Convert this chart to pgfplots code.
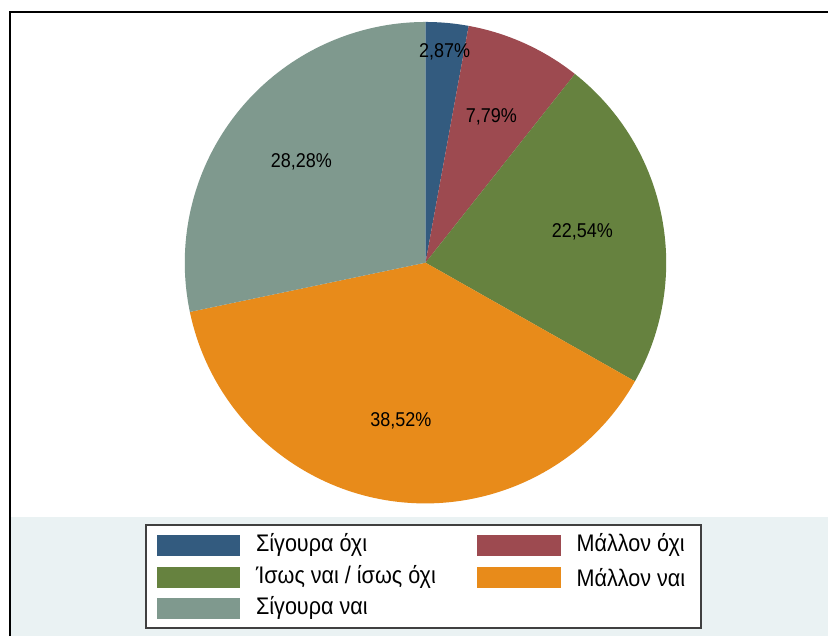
\documentclass[border=0pt]{standalone}
\usepackage{pgfplots}
\pgfplotsset{compat=1.18}
\usepackage{pgfplotstable}
\usepackage{graphicx}
\usepackage{fontspec}
\setmainfont{Liberation Sans}
\usetikzlibrary{calc}
\definecolor{c1}{HTML}{335B7F}
\definecolor{c2}{HTML}{9D4A50}
\definecolor{c3}{HTML}{66823F}
\definecolor{c4}{HTML}{E88B1A}
\definecolor{c5}{HTML}{7F998E}
\definecolor{bg}{HTML}{EAF2F3}
\pgfplotstableread{
pct   col  dist
2.87  c1   212
7.79  c2   160
22.54 c3   160
38.52 c4   160
28.28 c5   160
}\piedata
\newcommand\nar[1]{\scalebox{0.9}[1]{#1}}
\begin{document}
\begin{tikzpicture}
\begin{axis}[width=414.5pt,height=318.5pt,scale only axis,
  xmin=0,xmax=829,ymin=0,ymax=637,hide axis,clip=false]
\pgfplotsextra{
  \fill[white] (axis cs:0,0) rectangle (axis cs:829,637);
  \fill[bg] (axis cs:11,0) rectangle (axis cs:829,119);
  \draw[black,line width=1pt] (axis cs:10,0) -- (axis cs:10,625) -- (axis cs:829,625);
  % slices
  \gdef\cum{0}
  \foreach \i in {0,...,4}{
    \pgfplotstablegetelem{\i}{pct}\of\piedata \let\p\pgfplotsretval
    \pgfplotstablegetelem{\i}{col}\of\piedata \let\c\pgfplotsretval
    \pgfmathsetmacro\sa{90-3.6*\cum}
    \pgfmathsetmacro\ea{90-3.6*(\cum+\p)}
    \fill[\c] (axis cs:426,374) -- ++(\sa:120.5pt) arc[start angle=\sa,end angle=\ea,radius=120.5pt] -- cycle;
    \pgfmathsetmacro\nc{\cum+\p}
    \xdef\cum{\nc}
  }
  % labels
  \gdef\cum{0}
  \foreach \i in {0,...,4}{
    \pgfplotstablegetelem{\i}{pct}\of\piedata \let\p\pgfplotsretval
    \pgfplotstablegetelem{\i}{dist}\of\piedata \let\d\pgfplotsretval
    \pgfmathsetmacro\ma{90-3.6*(\cum+\p/2)}
    \pgfmathsetmacro\rr{\d*0.5}
    \node[font=\fontsize{10}{11}\selectfont,inner sep=0pt] at ($(axis cs:426,374)+(\ma:\rr pt)$)
      {\nar{\pgfmathprintnumber[fixed,fixed zerofill,precision=2,use comma,assume math mode=true]{\p}\%}};
    \pgfmathsetmacro\nc{\cum+\p}
    \xdef\cum{\nc}
  }
  % legend
  \draw[black!75,line width=1pt,fill=white] (axis cs:146,8) rectangle (axis cs:702,111);
  \fill[c1] (axis cs:157,80) rectangle (axis cs:240,101);
  \fill[c2] (axis cs:478,80) rectangle (axis cs:562,101);
  \fill[c3] (axis cs:157,48) rectangle (axis cs:240,69);
  \fill[c4] (axis cs:478,48) rectangle (axis cs:562,69);
  \fill[c5] (axis cs:157,17) rectangle (axis cs:240,38);
  \begin{scope}[every node/.style={font=\fontsize{12}{14}\selectfont,anchor=west,inner sep=0pt}]
  \node at (axis cs:256,91) {\nar{Σίγουρα όχι}};
  \node at (axis cs:577,91) {\nar{Μάλλον όχι}};
  \node at (axis cs:256,59) {\nar{Ίσως ναι / ίσως όχι}};
  \node at (axis cs:577,59) {\nar{Μάλλον ναι}};
  \node at (axis cs:256,28) {\nar{Σίγουρα ναι}};
  \end{scope}
}
\end{axis}
\end{tikzpicture}
\end{document}
